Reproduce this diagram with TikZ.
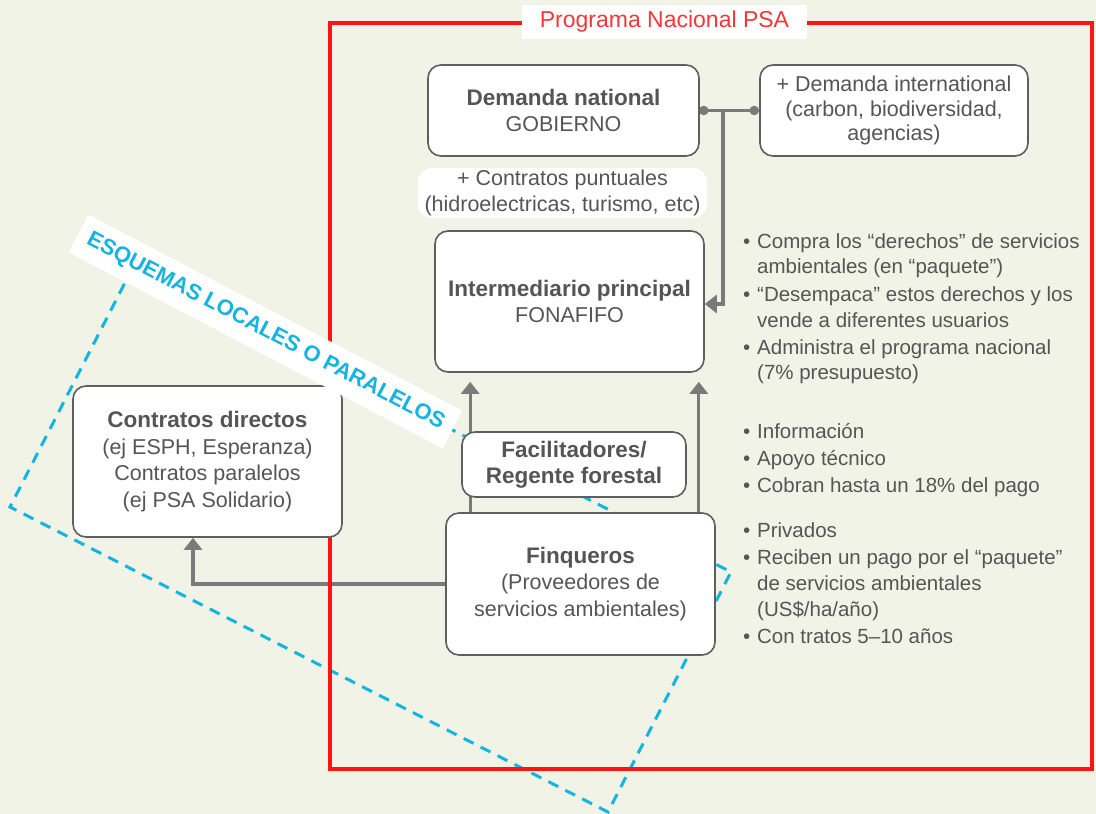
\documentclass[tikz,border=0pt]{standalone}
\usepackage{fontspec}
\setmainfont{Liberation Sans}
\usetikzlibrary{arrows.meta}
\definecolor{bgc}{RGB}{241,243,231}
\definecolor{txt}{RGB}{85,85,85}
\definecolor{boxline}{RGB}{95,95,95}
\definecolor{conn}{RGB}{122,122,122}
\definecolor{cyanx}{RGB}{20,180,225}
\definecolor{redx}{RGB}{255,20,20}
\definecolor{titlered}{RGB}{245,55,55}
\pgfdeclarelayer{back}
\pgfdeclarelayer{mid}
\pgfsetlayers{back,mid,main}
\newcommand{\boxtitle}[1]{{\fontsize{22.5}{26.5}\selectfont\bfseries #1}}
\newcommand{\bulmark}{\llap{\textbullet\hspace{7pt}}}
\begin{document}
\begin{tikzpicture}[x=1pt,y=-1pt,
  box/.style={draw=boxline, line width=1.6pt, fill=white, rounded corners=13pt,
    text=txt, align=center, inner sep=0pt, font=\fontsize{21.5}{26.5}\selectfont,
    execute at begin node={\rule{0pt}{23.5pt}}},
  arr/.style={draw=conn, line width=3.2pt, -{Triangle[length=12pt,width=18pt]}},
  conline/.style={draw=conn, line width=3.2pt},
  bul/.style={anchor=base west, text=txt, inner sep=0pt, font=\fontsize{20.5}{25}\selectfont},
  dashrect/.style={draw=cyanx, line width=3pt, dash pattern=on 11pt off 8pt},
  frame/.style={draw=redx, line width=3.5pt}
  ]
\useasboundingbox (0,0) rectangle (1096,814);

% boxes
\node[box, minimum width=271pt, minimum height=91pt] (dem) at (563.5,110.5)
  {\boxtitle{Demanda national}\\GOBIERNO};
\node[box, minimum width=268pt, minimum height=91pt, font=\fontsize{21.5}{24.5}\selectfont] (intl) at (894,110.5)
  {+ Demanda international\\(carbon, biodiversidad,\\agencias)};
\node[box, draw=none, minimum width=289pt, minimum height=50pt, rounded corners=14pt] (cp) at (562.5,193)
  {+ Contratos puntuales\\(hidroelectricas, turismo, etc)};
\node[box, minimum width=269pt, minimum height=141pt] (int) at (569.5,301.5)
  {\boxtitle{Intermediario principal}\\FONAFIFO};
\node[box, minimum width=269pt, minimum height=151pt] (cd) at (207.5,461.5)
  {\boxtitle{Contratos directos}\\(ej ESPH, Esperanza)\\Contratos paralelos\\(ej PSA Solidario)};
\node[box, minimum width=224pt, minimum height=65pt] (fac) at (574,464.5)
  {\boxtitle{Facilitadores/}\\\boxtitle{Regente forestal}};
\node[box, minimum width=269pt, minimum height=142pt] (fin) at (580.5,584)
  {\boxtitle{Finqueros}\\(Proveedores de\\servicios ambientales)};

% bullet texts
\node[bul] (b11) at (757,248) {\bulmark Compra los “derechos” de servicios};
\node[bul] (b12) at (757,273) {ambientales (en “paquete”)};
\node[bul] (b13) at (757,301) {\bulmark “Desempaca” estos derechos y los};
\node[bul] (b14) at (757,327) {vende a diferentes usuarios};
\node[bul] (b15) at (757,354) {\bulmark Administra el programa nacional};
\node[bul] (b16) at (757,379) {(7\% presupuesto)};
\node[bul] (b21) at (757,438) {\bulmark Información};
\node[bul] (b22) at (757,465) {\bulmark Apoyo técnico};
\node[bul] (b23) at (757,492) {\bulmark Cobran hasta un 18\% del pago};
\node[bul] (b31) at (757,537) {\bulmark Privados};
\node[bul] (b32) at (757,564) {\bulmark Reciben un pago por el “paquete”};
\node[bul] (b33) at (757,590) {de servicios ambientales};
\node[bul] (b34) at (757,616) {(US\$/ha/año)};
\node[bul] (b35) at (757,643) {\bulmark Con tratos 5–10 años};

% banner and title
\node[fill=white, minimum width=422pt, minimum height=42.5pt, inner sep=0pt, rotate=-27.66,
  text=cyanx, font=\fontsize{22}{22}\selectfont\bfseries] (ban) at (265.5,331.5)
  {ESQUEMAS LOCALES O PARALELOS};
\node[fill=white, minimum width=285pt, minimum height=34pt, inner sep=0pt,
  text=titlered, font=\fontsize{23}{23}\selectfont] (title) at (664.5,22)
  {Programa Nacional PSA};

\begin{pgfonlayer}{back}
  \fill[bgc] (0,0) rectangle (1096,814);
  \draw[dashrect] (133,267) -- (10,507) -- (608,812) -- (731,572) -- cycle;
\end{pgfonlayer}

\begin{pgfonlayer}{mid}
  \coordinate (j) at (723,110.5);
  \draw[conline] (dem.east) -- (intl.west);
  \fill[conn] ([xshift=4]dem.east) circle (4.8pt);
  \fill[conn] ([xshift=-5]intl.west) circle (4.8pt);
  \draw[arr] (j) |- ([yshift=-2.5]int.east);
  \draw[arr] ([xshift=25]fin.north west) -- ([xshift=36,yshift=-9]int.south west);
  \draw[arr] ([xshift=-17]fin.north east) -- ([xshift=-6,yshift=-9]int.south east);
  \draw[arr] (fin.west) -| ([xshift=-14.5]cd.south);
  \draw[frame] (330,23) rectangle (1092,769);
\end{pgfonlayer}
\end{tikzpicture}
\end{document}
